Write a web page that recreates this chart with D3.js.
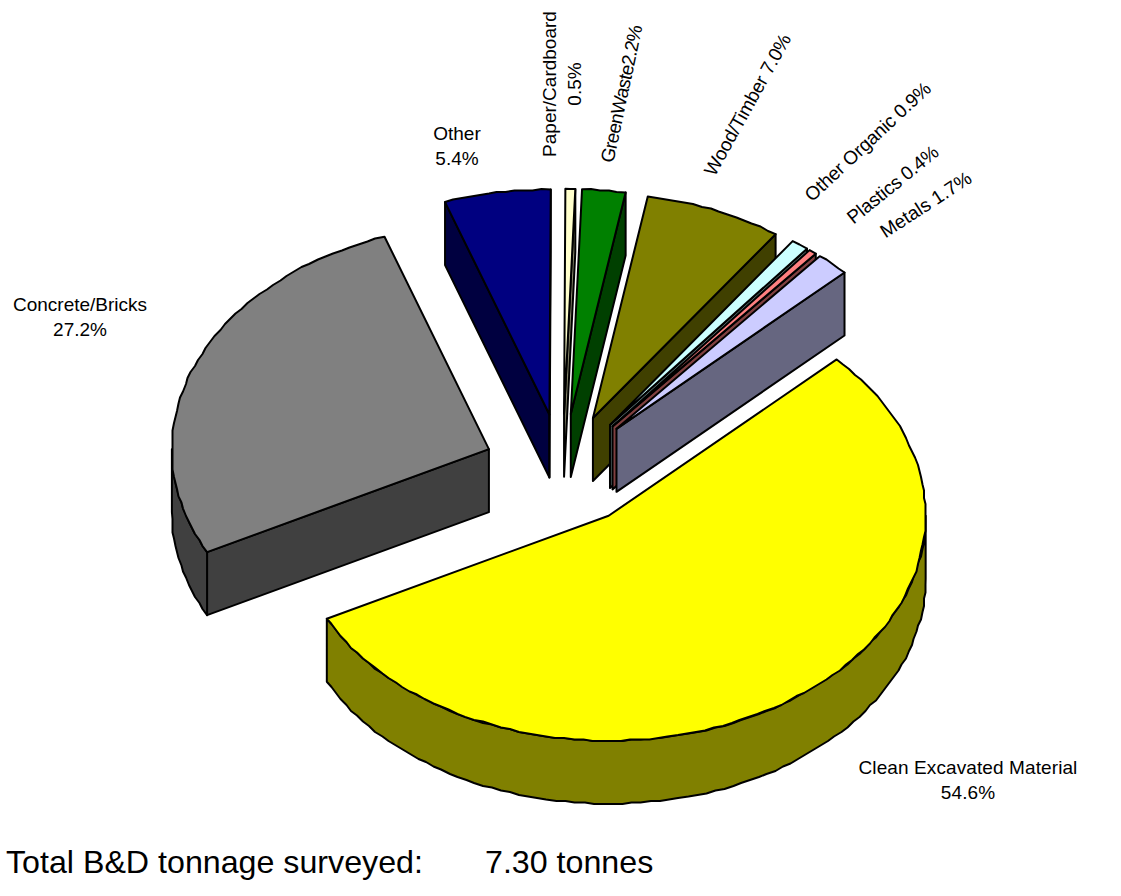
<!DOCTYPE html>
<html><head><meta charset="utf-8">
<script src="https://cdn.jsdelivr.net/npm/d3@7"></script>
<style>html,body{margin:0;background:#fff}svg{display:block}text{font-family:"Liberation Sans",Arial,sans-serif;fill:#000}</style>
</head><body><svg id="c" width="1121" height="896"></svg>
<script>
const categories=["Clean Excavated Material","Concrete/Bricks","Other","Paper/Cardboard","GreenWaste","Wood/Timber","Other Organic","Plastics","Metals"];
const shares=[54.6,27.2,5.4,0.5,2.2,7.0,0.9,0.4,1.7];
const topColours=["#ffff00","#808080","#000080","#ffffcc","#008000","#808000","#ccffff","#ff8080","#ccccff"];
const sideColours=["#808000","#404040","#000040","#808066","#004000","#404000","#668080","#804040","#666680"];
const labelLines=[["Clean Excavated Material","54.6%"],["Concrete/Bricks","27.2%"],["Other","5.4%"],["Paper/Cardboard","0.5%"],["GreenWaste2.2%"],["Wood/Timber 7.0%"],["Other Organic 0.9%"],["Plastics 0.4%"],["Metals 1.7%"]];
const labelAnchors=[[968,768],[80,305],[457,134],[550,84],[622,94],[748,105],[868,142],[893,185],[926,205]];
const labelRot=[0,0,0,-90,-78,-61,-43,-39,-33];
const labelTrack=[0.1,0,0,0,-0.7,-0.2,-0.2,-0.2,0];
const drawOrder=[2,3,4,5,6,7,8,1,0];
const footer="Total B&D tonnage surveyed:", footerValue="7.30 tonnes";

const svg=d3.select("#c");
const cx=562.5,cy=470,rx=317,ry=225,depth=63,explode=0.25;
const start=46*Math.PI/180;
const pie=d3.pie().sort(null).startAngle(start).endAngle(start+2*Math.PI);
const arcs=pie(shares);
const X=d3.scaleLinear().domain([-1,1]).range([-rx,rx]);
const Y=d3.scaleLinear().domain([-1,1]).range([-ry,ry]);
const pt=(t,o)=>[o[0]+X(Math.sin(t)),o[1]-Y(Math.cos(t))];
const line=d3.line();
const down=p=>[p[0],p[1]+depth];
// sampling snapped to a small grid reproduces the slightly wobbly rim of the original
const snap=p=>[Math.round(p[0]/1.5)*1.5,Math.round(p[1]/1.5)*1.5];
function samples(a,b){const n=Math.max(1,Math.ceil((b-a)/0.03));return d3.range(n+1).map(i=>a+(b-a)*i/n);}
const rimPts=(a,b,o)=>samples(a,b).map((t,i,arr)=>(i===0||i===arr.length-1)?pt(t,o):snap(pt(t,o)));
const style=(s,fill)=>s.attr("fill",fill).attr("stroke","#000").attr("stroke-width",2).attr("stroke-linejoin","round");

drawOrder.forEach(i=>{
  const a=arcs[i],m=(a.startAngle+a.endAngle)/2;
  const o=[cx+explode*X(Math.sin(m)),cy-explode*Y(Math.cos(m))];
  const g=svg.append("g").attr("class","slice");
  // only radial walls turned towards the viewer
  if(Math.sin(a.startAngle)<0){const p=pt(a.startAngle,o);style(g.append("path").attr("d",line([o,p,down(p),down(o)])+"Z"),sideColours[i]);}
  if(Math.sin(a.endAngle)>0){const p=pt(a.endAngle,o);style(g.append("path").attr("d",line([o,p,down(p),down(o)])+"Z"),sideColours[i]);}
  [[Math.PI/2,3*Math.PI/2],[Math.PI/2+2*Math.PI,3*Math.PI/2+2*Math.PI]].forEach(([l,h])=>{
    const s=Math.max(a.startAngle,l),e=Math.min(a.endAngle,h);
    if(e>s){const top=rimPts(s,e,o);
      style(g.append("path").attr("d",line(top.concat(top.slice().reverse().map(down)))+"Z"),sideColours[i]);}
  });
  style(g.append("path").attr("d",line([o].concat(rimPts(a.startAngle,a.endAngle,o)))+"Z"),topColours[i]);
});

labelLines.forEach((ls,i)=>{
  const [x,y]=labelAnchors[i];
  const t=svg.append("text").attr("transform",`translate(${x},${y}) rotate(${labelRot[i]})`)
    .attr("text-anchor","middle").attr("font-size",19).attr("letter-spacing",labelTrack[i]);
  ls.forEach((l,j)=>t.append("tspan").attr("x",0).attr("y",j*25+6).text(l));
});
svg.append("text").attr("x",6).attr("y",873).attr("font-size",32.2).text(footer);
svg.append("text").attr("x",485).attr("y",873).attr("font-size",32.2).text(footerValue);
</script></body></html>
